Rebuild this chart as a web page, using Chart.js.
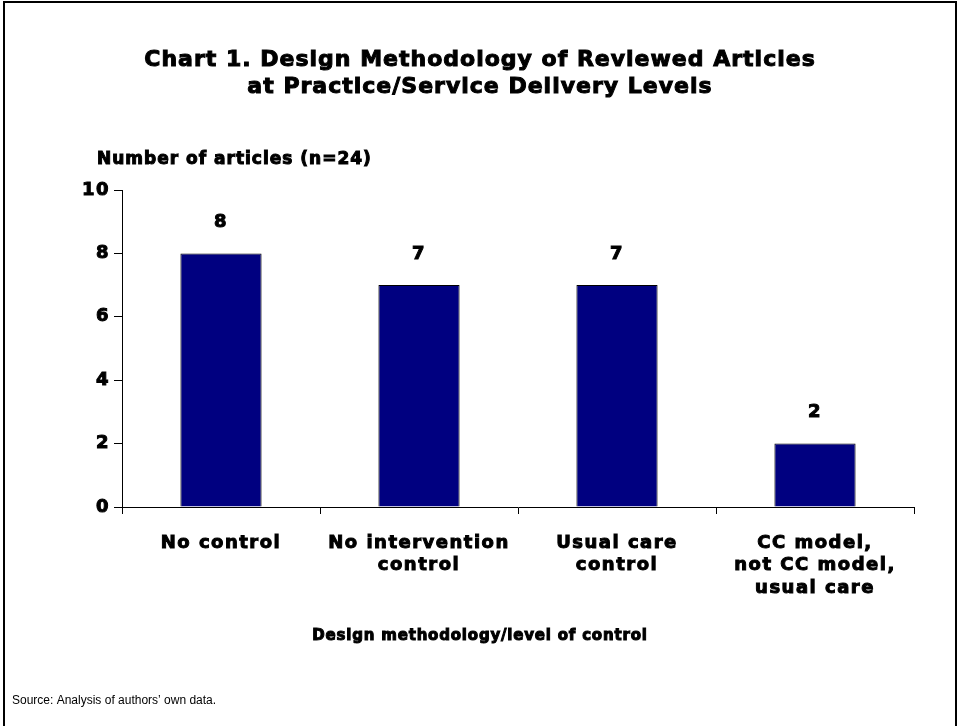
<!DOCTYPE html>
<html>
<head>
<meta charset="utf-8">
<script src="https://cdn.jsdelivr.net/npm/chart.js@4"></script>
<style>
  html, body { margin: 0; padding: 0; background: #fff; }
  #wrap { position: relative; width: 960px; height: 726px; }
</style>
</head>
<body>
<div id="wrap"><canvas id="designChart" width="960" height="726"></canvas></div>
<script>
// chart data
const categories = [
  ["No control"],
  ["No intervention", "control"],
  ["Usual care", "control"],
  ["CC model,", "not CC model,", "usual care"]
];
const articleCounts = [8, 7, 7, 2];
const yTicks = [0, 2, 4, 6, 8, 10];

const titleLines = ["Chart 1. Design Methodology of Reviewed Articles", "at Practice/Service Delivery Levels"];
const yTitle = "Number of articles (n=24)";
const xTitle = "Design methodology/level of control";
const sourceNote = "Source: Analysis of authors\u2019 own data.";

const heavy = "'DejaVu Sans', Arial, sans-serif";

// heavy text: fill plus a thin stroke to get closer to Arial Black
function heavyText(ctx, text, x, y, size, spacing) {
  ctx.font = "bold " + size + "px " + heavy;
  ctx.letterSpacing = spacing + "px";
  ctx.lineWidth = 1;
  ctx.strokeStyle = "#000";
  ctx.fillText(text, x, y);
  ctx.strokeText(text, x, y);
}

const textPlugin = {
  id: "textPlugin",
  beforeDraw(chart) {
    // letter spacing for the axis tick labels
    chart.ctx.letterSpacing = "1.5px";
  },
  afterDraw(chart) {
    const ctx = chart.ctx;
    ctx.save();
    ctx.strokeStyle = "#000";
    ctx.lineWidth = 2;
    ctx.strokeRect(4, 2, 952, 760);

    ctx.fillStyle = "#000";
    ctx.textAlign = "center";
    ctx.textBaseline = "middle";
    heavyText(ctx, titleLines[0], 480, 60, 22, 1);
    heavyText(ctx, titleLines[1], 480, 87, 22, 1);

    ctx.textAlign = "left";
    heavyText(ctx, yTitle, 97, 160, 17, 1);

    ctx.textAlign = "center";
    heavyText(ctx, xTitle, 480, 636, 15, 0.8);

    // value labels above bars
    const meta = chart.getDatasetMeta(0);
    meta.data.forEach((bar, i) => {
      heavyText(ctx, String(articleCounts[i]), bar.x, bar.y - 31, 18, 1.5);
    });

    ctx.textAlign = "left";
    ctx.letterSpacing = "0px";
    ctx.font = "12px 'Liberation Sans', Arial, sans-serif";
    ctx.fillText(sourceNote, 12, 701);
    ctx.restore();
  }
};

const ctx = document.getElementById("designChart").getContext("2d");
new Chart(ctx, {
  type: "bar",
  data: {
    labels: categories,
    datasets: [{
      data: articleCounts,
      backgroundColor: "#000080",
      borderColor: "#000",
      borderWidth: 1,
      categoryPercentage: 1,
      barPercentage: 0.41
    }]
  },
  options: {
    responsive: false,
    animation: false,
    layout: { padding: { left: 0, top: 190, right: 46, bottom: 0 } },
    plugins: {
      legend: { display: false },
      tooltip: { enabled: false },
      title: { display: false }
    },
    scales: {
      y: {
        min: 0,
        max: 10,
        afterBuildTicks(scale) {
          scale.ticks = yTicks.map(v => ({ value: v }));
        },
        afterFit(scale) { scale.width = 122; },
        border: { color: "#000", width: 1 },
        grid: { drawOnChartArea: false, drawTicks: true, tickLength: 8, color: "#000" },
        ticks: {
          color: "#000",
          padding: 4,
          textStrokeColor: "#000",
          textStrokeWidth: 1,
          font: { family: heavy, size: 18, weight: "bold" }
        }
      },
      x: {
        afterFit(scale) { scale.height = 219; },
        border: { color: "#000", width: 1 },
        grid: { drawOnChartArea: false, drawTicks: true, tickLength: 7, color: "#000", offset: true },
        ticks: {
          color: "#000",
          padding: 18,
          maxRotation: 0,
          textStrokeColor: "#000",
          textStrokeWidth: 1,
          font: { family: heavy, size: 18, weight: "bold", lineHeight: 1.25 }
        }
      }
    }
  },
  plugins: [textPlugin]
});
</script>
</body>
</html>
